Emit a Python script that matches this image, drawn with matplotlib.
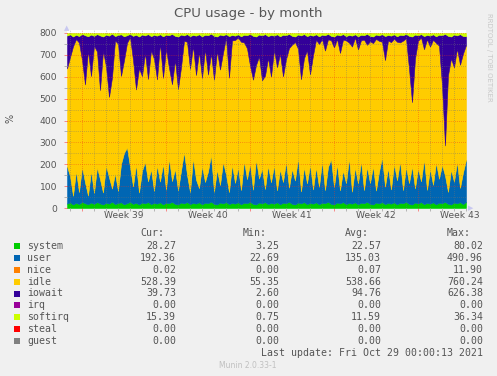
import matplotlib
matplotlib.use("Agg")
import matplotlib.pyplot as plt
import matplotlib.dates as mdates
from matplotlib.patches import Rectangle
import numpy as np
import pandas as pd

# 6-hourly samples
times = pd.date_range("2021-09-25 18:00", "2021-10-29 00:00", freq="6h")

system = [20, 26, 16, 24, 18, 28, 22, 17, 25, 19, 27, 21, 16, 24, 20, 29, 18, 23, 26, 17,
          22, 28, 19, 24, 16, 25, 21, 27, 18, 23, 20, 26, 17, 24, 22, 28, 19, 16, 25, 21,
          27, 18, 23, 20, 26, 17, 24, 22, 29, 19, 16, 25, 21, 27, 18, 23, 20, 26, 17, 24,
          22, 28, 19, 16, 25, 21, 27, 18, 23, 20, 26, 17, 24, 22, 28, 19, 16, 25, 21, 27,
          18, 23, 20, 26, 17, 24, 22, 28, 19, 16, 25, 21, 27, 18, 23, 20, 26, 17, 24, 22,
          28, 19, 16, 25, 21, 27, 18, 23, 20, 26, 17, 24, 22, 28, 19, 16, 25, 21, 27, 18,
          23, 20, 26, 17, 24, 22, 28, 19, 16, 25, 21, 27, 18, 28]

user = [170, 120, 40, 145, 55, 160, 95, 40, 145, 50,
        160, 110, 55, 170, 120, 60, 140, 55, 175, 235,
        255, 160, 80, 175, 55, 145, 190, 95, 160, 55,
        175, 95, 185, 60, 205, 95, 160, 65, 145, 235,
        125, 55, 205, 110, 65, 175, 95, 145, 215, 55,
        160, 80, 190, 125, 55, 175, 95, 160, 65, 190,
        110, 175, 65, 205, 110, 160, 60, 175, 95, 175,
        55, 160, 95, 190, 65, 160, 110, 205, 55, 160,
        95, 175, 65, 160, 80, 190, 60, 160, 205, 80,
        175, 60, 145, 95, 205, 55, 160, 95, 190, 60,
        160, 95, 175, 55, 145, 205, 80, 160, 65, 175,
        110, 190, 60, 160, 95, 175, 65, 160, 95, 205,
        60, 160, 80, 190, 110, 175, 120, 55, 160, 95,
        190, 65, 145, 192]

idle = [448, 543, 683, 603, 683, 488, 448, 663, 433, 673,
        528, 408, 648, 453, 368, 508, 608, 673, 403, 423,
        478, 593, 578, 343, 568, 433, 498, 468, 543, 603,
        393, 633, 393, 643, 413, 443, 498, 463, 473, 508,
        608, 563, 513, 478, 623, 403, 608, 443, 463, 513,
        543, 528, 498, 628, 523, 568, 653, 593, 678, 543,
        598, 448, 503, 433, 558, 403, 518, 493, 483, 528,
        563, 528, 483, 468, 638, 568, 633, 498, 513, 498,
        608, 413, 613, 583, 653, 558, 638, 583, 543, 638,
        573, 628, 598, 653, 528, 663, 593, 613, 553, 688,
        558, 648, 563, 693, 598, 528, 578, 583, 673, 573,
        633, 543, 683, 588, 523, 293, 593, 583, 658, 503,
        688, 558, 663, 548, 608, 363, 138, 533, 508, 523,
        518, 563, 543, 525]

iowait = [150, 105, 45, 20, 30, 120, 225, 65, 190, 45,
          80, 250, 65, 145, 280, 200, 20, 40, 190, 110,
          35, 15, 110, 250, 145, 190, 80, 205, 65, 110,
          200, 40, 190, 65, 150, 230, 110, 240, 150, 25,
          35, 150, 50, 180, 80, 190, 65, 180, 90, 200,
          65, 160, 80, 15, 190, 25, 20, 15, 25, 35,
          60, 145, 200, 130, 100, 205, 190, 100, 190, 65,
          150, 80, 190, 110, 65, 40, 25, 65, 200, 110,
          65, 180, 90, 25, 35, 20, 70, 25, 20, 50,
          20, 80, 25, 20, 35, 50, 15, 60, 25, 20,
          50, 25, 30, 20, 25, 35, 110, 25, 30, 20,
          25, 35, 25, 20, 150, 300, 110, 25, 15, 60,
          20, 50, 25, 30, 50, 230, 510, 180, 100, 150,
          60, 140, 80, 40]

softirq = [12, 6, 16, 8, 14, 4, 10, 15, 7, 13, 5, 11, 16, 8, 12, 3, 14, 9, 6, 15,
           10, 4, 13, 8, 16, 7, 11, 5, 14, 9, 12, 6, 15, 8, 10, 4, 13, 16, 7, 11,
           5, 14, 9, 12, 6, 15, 8, 10, 3, 13, 16, 7, 11, 5, 14, 9, 12, 6, 15, 8,
           10, 4, 13, 16, 7, 11, 5, 14, 9, 12, 6, 15, 8, 10, 4, 13, 16, 7, 11, 5,
           14, 9, 12, 6, 15, 8, 10, 4, 13, 16, 7, 11, 5, 14, 9, 12, 6, 15, 8, 10,
           4, 13, 16, 7, 11, 5, 14, 9, 12, 6, 15, 8, 10, 4, 13, 16, 7, 11, 5, 14,
           9, 12, 6, 15, 8, 10, 4, 13, 16, 7, 11, 5, 14, 15]

week_labels = ["Week 39", "Week 40", "Week 41", "Week 42", "Week 43"]
week_starts = ["2021-09-27", "2021-10-04", "2021-10-11", "2021-10-18", "2021-10-25"]

# legend table
names = ["system", "user", "nice", "idle", "iowait", "irq", "softirq", "steal", "guest"]
colors = ["#00CC00", "#0066B3", "#FF8000", "#FFCC00", "#330099",
          "#990099", "#CCFF00", "#FF0000", "#808080"]
cur = [28.27, 192.36, 0.02, 528.39, 39.73, 0.00, 15.39, 0.00, 0.00]
mins = [3.25, 22.69, 0.00, 55.35, 2.60, 0.00, 0.75, 0.00, 0.00]
avgs = [22.57, 135.03, 0.07, 538.66, 94.76, 0.00, 11.59, 0.00, 0.00]
maxs = [80.02, 490.96, 11.90, 760.24, 626.38, 0.00, 36.34, 0.00, 0.00]

W, H = 497, 376
BG = "#F0F0F0"
TXT = "#555555"

fig = plt.figure(figsize=(W / 100, H / 100), dpi=100, facecolor=BG)

y0_px, ppu = 208, 175 / 800
ytop = 812
ax = fig.add_axes([67 / W, (H - y0_px) / H, 399 / W, ytop * ppu / H])
ax.set_facecolor("white")

area_cols = ["#00CC00", "#0066B3", "#FFCC00", "#330099", "#CCFF00"]
polys = ax.stackplot(times, system, user, idle, iowait, softirq, colors=area_cols)
for p, c in zip(polys, area_cols):
    p.set_edgecolor(c)
    p.set_linewidth(0.4)

ax.set_xlim(times[0], times[-1])
ax.set_ylim(0, ytop)

ax.xaxis.set_major_locator(mdates.WeekdayLocator(byweekday=mdates.MO))
ax.xaxis.set_minor_locator(mdates.DayLocator())
ax.xaxis.set_major_formatter(plt.NullFormatter())
ax.set_yticks(range(0, 801, 100))
ax.set_yticks(range(50, 800, 100), minor=True)

# rrdtool style dotted grid drawn over the areas
ax.set_axisbelow(False)
ax.grid(which="major", color=(0.95, 0.2, 0.1, 0.45), linestyle=(0, (0.8, 2.2)), linewidth=0.5)
ax.grid(which="minor", color=(0.45, 0.45, 0.45, 0.35), linestyle=(0, (0.8, 2.2)), linewidth=0.5)

ax.tick_params(axis="y", which="major", length=2, width=0.6, color=(1, 0, 0, 0.5),
               labelsize=6.6, labelcolor=TXT, pad=5)
ax.tick_params(axis="y", which="minor", length=2, width=0.6, color="#aaaaaa")
ax.tick_params(axis="x", which="major", length=2, width=0.6, color=(1, 0, 0, 0.5))
ax.tick_params(axis="x", which="minor", length=2, width=0.6, color="#aaaaaa")
for s in ax.spines.values():
    s.set_visible(False)

for lab, ws in zip(week_labels, week_starts):
    ax.text(pd.Timestamp(ws) + pd.Timedelta(hours=84), -0.045, lab,
            transform=ax.get_xaxis_transform(), ha="center", va="center",
            fontsize=6.6, color=TXT)

# axis arrows
fig.text(67 / W, 1 - 28 / H, "\u25B2", ha="center", va="center", fontsize=5, color="#C8C8F0")
fig.text(471 / W, 1 - 208 / H, "\u25B6", ha="center", va="center", fontsize=5, color="#C8C8F0")


def ftext(x, y, s, **kw):
    fig.text(x / W, 1 - y / H, s, va="center", **kw)


ftext(248, 14, "CPU usage - by month", ha="center", fontsize=9.5, color=TXT)
ftext(10, 118, "%", ha="center", rotation=90, fontsize=7, color=TXT)
ftext(489, 57, "RRDTOOL / TOBI OETIKER", ha="center", rotation=270, fontsize=5,
      color="#C8C8C8")

mono = dict(family="DejaVu Sans Mono", fontsize=7.1, color=TXT)
ftext(140, 233.5, "Cur:", ha="left", **mono)
ftext(243, 233.5, "Min:", ha="left", **mono)
ftext(345, 233.5, "Avg:", ha="left", **mono)
ftext(447, 233.5, "Max:", ha="left", **mono)

for i, name in enumerate(names):
    y = 245.7 + 11.95 * i
    fig.patches.append(Rectangle((14 / W, 1 - (y + 3) / H), 6 / W, 6 / H,
                                 transform=fig.transFigure, facecolor=colors[i],
                                 edgecolor="none"))
    ftext(27, y, name, ha="left", **mono)
    ftext(176, y, f"{cur[i]:.2f}", ha="right", **mono)
    ftext(279, y, f"{mins[i]:.2f}", ha="right", **mono)
    ftext(381, y, f"{avgs[i]:.2f}", ha="right", **mono)
    ftext(483, y, f"{maxs[i]:.2f}", ha="right", **mono)

ftext(483, 353.5, "Last update: Fri Oct 29 00:00:13 2021", ha="right", **mono)
ftext(248, 365.5, "Munin 2.0.33-1", ha="center", fontsize=5.5, color="#C0C0C0")

fig.savefig("out.png", dpi=100, facecolor=BG)
